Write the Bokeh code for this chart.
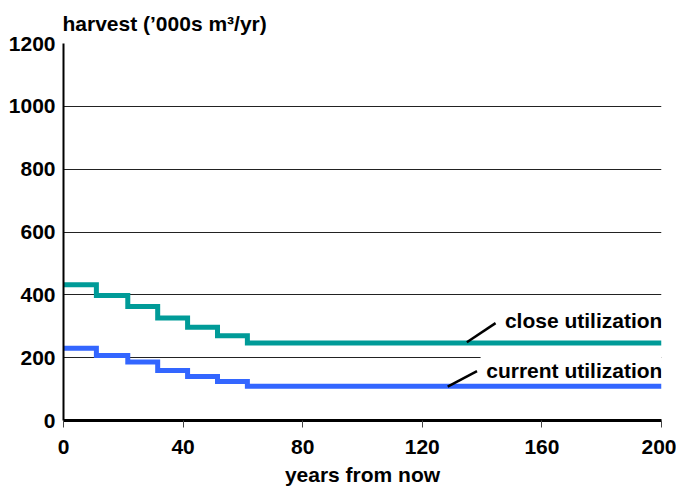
from bokeh.plotting import figure
from bokeh.models import Label, BoxAnnotation, Range1d, FixedTicker
from bokeh.embed import file_html
from bokeh.resources import INLINE

# Data
years = [0, 11, 21.5, 31.5, 41.5, 51.5, 61.5, 200]
close_util = [432, 398, 363, 326, 297, 270, 247, 247]
current_util = [230, 207, 186, 159, 140, 124, 109, 109]
x_ticks = [0, 40, 80, 120, 160, 200]
y_ticks = [0, 200, 400, 600, 800, 1000, 1200]

FONT = "Liberation Sans"
FS = "21px"

p = figure(width=676, height=490, output_backend="svg", toolbar_location=None,
           x_range=Range1d(0, 200), y_range=Range1d(0, 1200),
           min_border_left=63, min_border_right=15, min_border_top=43, min_border_bottom=70,
           title="harvest (\u2019000s m\u00b3/yr)")
p.outline_line_color = None
p.background_fill_color = "white"
p.border_fill_color = "white"

p.title.text_font = FONT
p.title.text_font_size = FS
p.title.text_font_style = "bold"
p.title.text_color = "black"
p.title.align = "left"
p.title.offset = -1
p.title.standoff = 17

# axes
xa = p.xaxis[0]
xa.ticker = FixedTicker(ticks=x_ticks)
xa.axis_line_width = 3
xa.axis_line_color = "black"
xa.major_tick_out = 7
xa.major_tick_in = 0
xa.major_tick_line_color = "#444444"
xa.minor_tick_line_color = None
xa.major_label_text_font = FONT
xa.major_label_text_font_size = FS
xa.major_label_text_font_style = "bold"
xa.major_label_text_color = "black"
xa.major_label_standoff = 12
xa.axis_label = "years from now"
xa.axis_label_text_font = FONT
xa.axis_label_text_font_size = FS
xa.axis_label_text_font_style = "bold"
xa.axis_label_text_color = "black"
xa.axis_label_standoff = 6

ya = p.yaxis[0]
ya.ticker = FixedTicker(ticks=y_ticks)
ya.axis_line_width = 2
ya.axis_line_color = "black"
ya.major_tick_out = 0
ya.major_tick_in = 0
ya.minor_tick_line_color = None
ya.major_label_text_font = FONT
ya.major_label_text_font_size = FS
ya.major_label_text_font_style = "bold"
ya.major_label_text_color = "black"
ya.major_label_standoff = 8

p.xgrid.grid_line_color = None
p.ygrid.ticker = FixedTicker(ticks=y_ticks[1:])
p.ygrid.grid_line_color = "#222222"
p.ygrid.grid_line_width = 1

# white box behind the "current utilization" label hiding part of the 200 gridline
p.add_layout(BoxAnnotation(left=139.5, right=None, bottom=185, top=222,
                           fill_color="white", fill_alpha=1.0, line_color=None))

p.step(years, close_util, mode="after", line_width=5, line_color="#009B98",
       line_join="miter")
p.step(years, current_util, mode="after", line_width=5, line_color="#3366FF",
       line_join="miter")

# leader lines
p.segment(x0=[134.9, 128.5], y0=[249, 108], x1=[144.5, 138.3], y1=[310, 157],
          line_color="black", line_width=2.5)

for txt, yy in [("close utilization", 318), ("current utilization", 159)]:
    p.add_layout(Label(x=200.3, y=yy, text=txt, text_align="right",
                       text_baseline="alphabetic", text_font=FONT,
                       text_font_size=FS, text_font_style="bold",
                       text_color="black"))

open("out.html", "w").write(file_html(p, INLINE))
